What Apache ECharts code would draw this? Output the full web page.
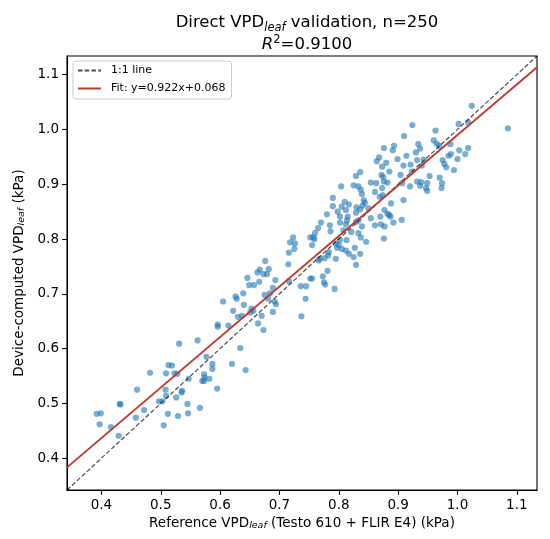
<!DOCTYPE html>
<html>
<head>
<meta charset="utf-8">
<script src="https://cdn.jsdelivr.net/npm/echarts@6/dist/echarts.min.js"></script>
<style>
  html, body { margin: 0; padding: 0; background: #fff; }
  #chart { width: 550px; height: 539px; }
</style>
</head>
<body>
<div id="chart"></div>
<script>
// reference readings (kPa)
var refX = [
  0.531, 0.562, 0.577, 0.587, 0.587, 0.620, 0.513, 0.519, 0.482, 0.509,
  0.523, 0.528, 0.573, 0.547, 0.574, 0.582, 0.570, 0.573, 0.460, 0.508,
  0.536, 0.535, 0.595, 0.509, 0.526, 0.497, 0.503, 0.431, 0.432, 0.545,
  0.472, 0.392, 0.399, 0.512, 0.546, 0.566, 0.529, 0.458, 0.397, 0.416,
  0.505, 0.429, 0.643,
  0.723, 0.718, 0.726, 0.725, 0.716, 0.752, 0.757, 0.760, 0.759, 0.755,
  0.786, 0.802, 0.795, 0.800, 0.797, 0.813, 0.805, 0.812, 0.817, 0.783,
  0.782, 0.776, 0.768, 0.766, 0.795, 0.715, 0.676, 0.667, 0.663, 0.673,
  0.682, 0.679, 0.646, 0.666, 0.693, 0.649, 0.657, 0.716, 0.736, 0.745,
  0.752, 0.755, 0.773, 0.781, 0.775, 0.777, 0.793, 0.689, 0.639, 0.626,
  0.628, 0.675, 0.684, 0.681, 0.692, 0.694, 0.744, 0.605, 0.640, 0.622,
  0.653, 0.651, 0.656, 0.689, 0.630, 0.637, 0.670, 0.737, 0.596, 0.596,
  0.614, 0.664, 0.673, 0.634,
  0.924, 1.002, 1.018, 0.910, 0.963, 0.876, 0.893, 0.891, 0.934, 0.937,
  0.930, 0.960, 0.965, 0.969, 0.988, 0.914, 0.868, 0.864, 0.880, 0.873,
  0.899, 0.921, 0.909, 0.932, 0.943, 0.975, 0.978, 0.981, 0.985, 0.989,
  1.003, 1.013, 1.018, 1.000, 0.994, 0.836, 0.829, 0.872, 0.875, 0.885,
  0.904, 0.923, 0.940, 0.953, 0.970, 0.876, 0.882, 0.854, 0.863, 0.825,
  0.833, 0.804, 0.837, 0.839, 0.861, 0.873, 0.874, 0.907, 0.920, 0.932,
  0.939, 0.937, 0.947, 0.949, 0.974, 0.973, 0.810, 0.817, 0.805, 0.842,
  0.844, 0.840, 0.830, 0.869, 0.888, 0.909, 0.850, 0.802, 0.815, 0.814,
  0.829, 0.829, 0.812, 0.854, 0.870, 0.877, 0.882, 0.885, 0.887, 0.906,
  0.892, 0.861, 0.871, 0.877, 0.839, 0.808, 0.821, 0.833, 0.837, 0.876,
  0.827, 0.825, 0.829,
  0.812, 0.836, 0.833, 0.802, 0.846, 0.836, 0.949,
  1.024, 1.085,
  0.770, 0.780, 0.790, 0.790, 0.798, 0.785, 0.765
];
// device-computed values, same order as refX
var devY = [
  0.609, 0.615, 0.585, 0.572, 0.563, 0.572, 0.570, 0.569, 0.556, 0.555,
  0.555, 0.554, 0.553, 0.545, 0.547, 0.545, 0.541, 0.541, 0.525, 0.525,
  0.523, 0.520, 0.527, 0.514, 0.511, 0.504, 0.504, 0.499, 0.498, 0.499,
  0.488, 0.481, 0.482, 0.481, 0.482, 0.492, 0.477, 0.474, 0.462, 0.457,
  0.460, 0.441, 0.561,
  0.803, 0.794, 0.792, 0.782, 0.775, 0.803, 0.803, 0.811, 0.800, 0.789,
  0.814, 0.798, 0.792, 0.789, 0.784, 0.798, 0.782, 0.779, 0.773, 0.776,
  0.770, 0.765, 0.764, 0.761, 0.764, 0.754, 0.760, 0.744, 0.739, 0.736,
  0.745, 0.736, 0.729, 0.722, 0.725, 0.716, 0.716, 0.723, 0.714, 0.714,
  0.728, 0.728, 0.732, 0.742, 0.721, 0.717, 0.709, 0.711, 0.701, 0.695,
  0.691, 0.698, 0.701, 0.691, 0.686, 0.681, 0.691, 0.686, 0.680, 0.669,
  0.673, 0.666, 0.669, 0.667, 0.658, 0.660, 0.660, 0.659, 0.644, 0.640,
  0.642, 0.646, 0.634, 0.601,
  1.008, 1.010, 1.013, 0.988, 0.998, 0.966, 0.970, 0.962, 0.973, 0.965,
  0.958, 0.980, 0.974, 0.970, 0.973, 0.952, 0.949, 0.942, 0.939, 0.932,
  0.946, 0.936, 0.934, 0.944, 0.945, 0.944, 0.937, 0.931, 0.952, 0.955,
  0.962, 0.955, 0.966, 0.946, 0.926, 0.922, 0.915, 0.917, 0.913, 0.923,
  0.917, 0.923, 0.934, 0.915, 0.912, 0.905, 0.903, 0.903, 0.902, 0.898,
  0.896, 0.896, 0.890, 0.882, 0.886, 0.893, 0.880, 0.902, 0.896, 0.905,
  0.904, 0.897, 0.893, 0.888, 0.902, 0.893, 0.868, 0.863, 0.859, 0.871,
  0.866, 0.861, 0.858, 0.877, 0.865, 0.871, 0.856, 0.841, 0.841, 0.834,
  0.848, 0.831, 0.827, 0.838, 0.841, 0.853, 0.846, 0.844, 0.841, 0.835,
  0.830, 0.825, 0.827, 0.823, 0.823, 0.816, 0.813, 0.811, 0.803, 0.801,
  0.784, 0.767, 0.753,
  0.853, 0.854, 0.834, 0.830, 0.795, 0.773, 0.902,
  1.043, 1.002,
  0.830, 0.845, 0.860, 0.875, 0.850, 0.825, 0.820
];

var axisRange = [0.342, 1.134];
var fitSlope = 0.922;
var fitIntercept = 0.068;
var nTotal = 250;
var r2 = '0.9100';

var points = refX.map(function (x, i) { return [x, devY[i]]; });
var identityLine = axisRange.map(function (v) { return [v, v]; });
var fitLine = axisRange.map(function (v) { return [v, fitSlope * v + fitIntercept]; });
var fitName = 'Fit: y=' + fitSlope + 'x+' + fitIntercept.toFixed(3);

var font = 'DejaVu Sans';
var subStyle = { fontSize: 9.5, fontStyle: 'italic', lineHeight: 9, verticalAlign: 'bottom', fontFamily: font };

var chart = echarts.init(document.getElementById('chart'));

var option = {
  animation: false,
  backgroundColor: '#fff',
  title: {
    text: '{n|Direct VPD}{sub|leaf}{n| validation, n=' + nTotal + '}\n{it|R}{sup|2}{n|=' + r2 + '}',
    left: 302,
    top: 7,
    textAlign: 'center',
    textStyle: {
      fontWeight: 'normal',
      rich: {
        n: { fontSize: 16.5, fontWeight: 'normal', fontFamily: font, color: '#000', lineHeight: 22 },
        sub: { fontSize: 11.5, fontWeight: 'normal', fontStyle: 'italic', fontFamily: font, color: '#000', lineHeight: 11, verticalAlign: 'bottom' },
        it: { fontSize: 16.5, fontWeight: 'normal', fontStyle: 'italic', fontFamily: font, color: '#000', lineHeight: 22 },
        sup: { fontSize: 11.5, fontWeight: 'normal', fontFamily: font, color: '#000', lineHeight: 11, verticalAlign: 'top' }
      }
    }
  },
  legend: {
    data: ['1:1 line', fitName],
    orient: 'vertical',
    left: 73,
    top: 61,
    padding: [4, 6, 5, 4],
    itemWidth: 23,
    itemHeight: 10,
    itemGap: 7,
    backgroundColor: 'rgba(255,255,255,0.8)',
    borderColor: '#cccccc',
    borderWidth: 1,
    borderRadius: 3,
    itemStyle: { color: 'rgba(0,0,0,0)', borderWidth: 0, opacity: 0 },
    textStyle: { fontSize: 11, fontFamily: font, color: '#000', padding: [0, 0, 0, 5] }
  },
  grid: {
    left: 67,
    right: 13,
    top: 56,
    bottom: 49,
    show: true,
    borderColor: '#000',
    borderWidth: 1.1
  },
  xAxis: {
    type: 'value',
    min: axisRange[0],
    max: axisRange[1],
    splitNumber: 8,
    name: 'Reference VPD{sub|leaf} (Testo 610 + FLIR E4) (kPa)',
    nameLocation: 'middle',
    nameGap: 26,
    nameTextStyle: {
      fontSize: 13.5, fontFamily: font, color: '#000',
      rich: { sub: subStyle }
    },
    axisLine: { lineStyle: { color: '#000', width: 1.1 } },
    axisTick: { length: 4.9, lineStyle: { color: '#000', width: 1.1 } },
    axisLabel: {
      fontSize: 13.5, fontFamily: font, color: '#000', margin: 8,
      showMinLabel: false, showMaxLabel: false,
      formatter: function (v) { return v.toFixed(1); }
    },
    splitLine: { show: false }
  },
  yAxis: {
    type: 'value',
    min: axisRange[0],
    max: axisRange[1],
    splitNumber: 8,
    name: 'Device-computed VPD{sub|leaf} (kPa)',
    nameLocation: 'middle',
    nameGap: 30,
    nameRotate: 90,
    nameTextStyle: {
      fontSize: 13.5, fontFamily: font, color: '#000',
      rich: { sub: subStyle }
    },
    axisLine: { lineStyle: { color: '#000', width: 1.1 } },
    axisTick: { length: 4.9, lineStyle: { color: '#000', width: 1.1 } },
    axisLabel: {
      fontSize: 13.5, fontFamily: font, color: '#000', margin: 8,
      showMinLabel: false, showMaxLabel: false,
      formatter: function (v) { return v.toFixed(1); }
    },
    splitLine: { show: false }
  },
  series: [
    {
      name: 'samples',
      type: 'scatter',
      data: points,
      symbolSize: 6.2,
      itemStyle: { color: '#1f77b4', opacity: 0.6 },
      z: 2
    },
    {
      name: '1:1 line',
      type: 'line',
      data: identityLine,
      symbol: 'none',
      lineStyle: { color: 'rgba(0,0,0,0.7)', width: 1.2, type: [4.5, 2.2] },
      itemStyle: { color: 'rgba(0,0,0,0.7)' },
      z: 3
    },
    {
      name: fitName,
      type: 'line',
      data: fitLine,
      symbol: 'none',
      lineStyle: { color: '#c0392b', width: 1.9 },
      itemStyle: { color: '#c0392b' },
      z: 4
    }
  ]
};

chart.setOption(option);
</script>
</body>
</html>
